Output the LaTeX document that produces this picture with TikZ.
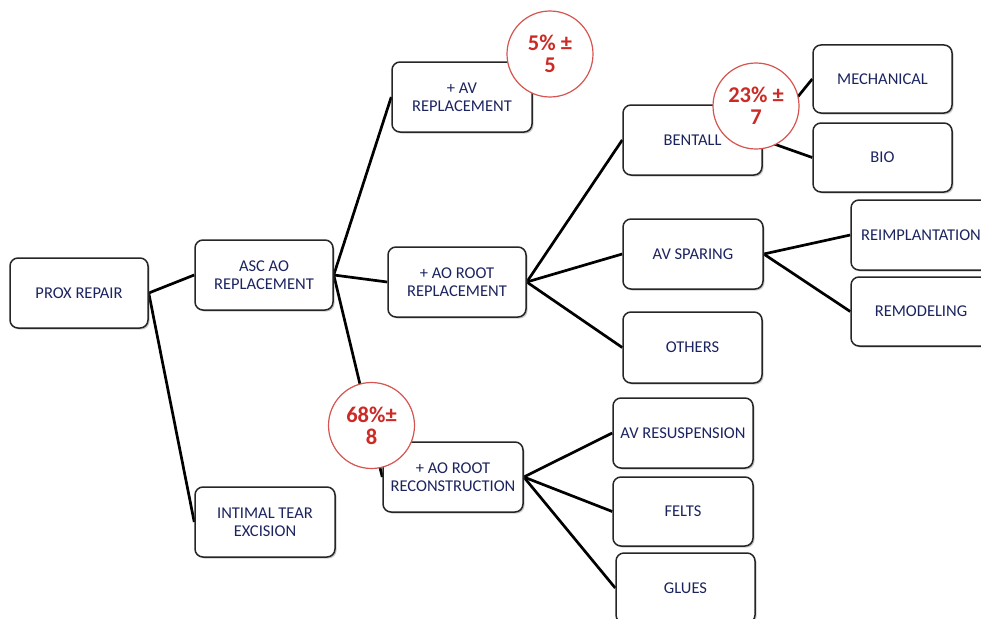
\documentclass[tikz,border=0pt]{standalone}
\usepackage{fontspec}
\setmainfont{Carlito}
\usetikzlibrary{shadows}
\pgfdeclarelayer{bg}
\pgfdeclarelayer{lines}
\pgfsetlayers{bg,lines,main}
\definecolor{navy}{HTML}{1C2460}
\definecolor{circred}{HTML}{CC2A24}
\definecolor{circline}{HTML}{D65550}
\begin{document}
\begin{tikzpicture}[x=1pt,y=-1pt,
  box/.style={draw=black!85, line width=1.5pt, rounded corners=8pt, fill=white,
    align=center, inner sep=0pt, text=navy,
    font=\fontsize{16.5}{18}\selectfont,
    drop shadow={shadow xshift=1.5pt, shadow yshift=-1.5pt, opacity=0.35, fill=black!60}},
  pct/.style={draw=circline, line width=1.2pt, circle, fill=white, minimum size=86pt,
    inner sep=0pt, align=center, text=circred,
    font=\fontsize{22.5}{22}\selectfont\bfseries},
  conn/.style={line width=2.7pt, black}]
\useasboundingbox (0,0) rectangle (981,618);
\begin{pgfonlayer}{bg}
\fill[white] (0,0) rectangle (981,618);
\end{pgfonlayer}

% boxes
\node[box, minimum width=138pt, minimum height=70pt] (prox) at (79,293) {PROX REPAIR};
\node[box, minimum width=138pt, minimum height=70pt] (asc) at (264,275) {ASC AO\\REPLACEMENT};
\node[box, minimum width=140pt, minimum height=70pt] (avr) at (462,97) {+ AV\\REPLACEMENT};
\node[box, minimum width=138pt, minimum height=70pt] (aorr) at (457,282) {+ AO ROOT\\REPLACEMENT};
\node[box, minimum width=139pt, minimum height=70pt] (bentall) at (692.5,140) {BENTALL};
\node[box, minimum width=139pt, minimum height=68pt] (mech) at (882.5,79) {MECHANICAL};
\node[box, minimum width=139pt, minimum height=69pt] (bio) at (882.5,157.5) {BIO};
\node[box, minimum width=140pt, minimum height=70pt] (avs) at (693,254) {AV SPARING};
\node[box, minimum width=139pt, minimum height=71pt] (others) at (692.5,347.5) {OTHERS};
\node[box, minimum width=140pt, minimum height=70pt] (reimpl) at (921,235) {REIMPLANTATION};
\node[box, minimum width=140pt, minimum height=69pt] (remod) at (921,311.5) {REMODELING};
\node[box, minimum width=140pt, minimum height=70pt] (recon) at (453,477) {+ AO ROOT\\RECONSTRUCTION};
\node[box, minimum width=140pt, minimum height=70pt] (avres) at (683,433) {AV RESUSPENSION};
\node[box, minimum width=140pt, minimum height=69pt] (felts) at (683,511.5) {FELTS};
\node[box, minimum width=139pt, minimum height=70pt] (glues) at (685.5,588) {GLUES};
\node[box, minimum width=140pt, minimum height=70pt] (intimal) at (265,522) {INTIMAL TEAR\\EXCISION};

% connectors (behind boxes)
\begin{pgfonlayer}{lines}
\draw[conn] (prox.east) -- (asc.west);
\draw[conn] (prox.east) -- (intimal.west);
\draw[conn] (asc.east) -- (avr.west);
\draw[conn] (asc.east) -- (aorr.west);
\draw[conn] (asc.east) -- (recon.west);
\draw[conn] (aorr.east) -- (bentall.west);
\draw[conn] (aorr.east) -- (avs.west);
\draw[conn] (aorr.east) -- (others.west);
\draw[conn] (bentall.east) -- (mech.west);
\draw[conn] (bentall.east) -- (bio.west);
\draw[conn] (avs.east) -- (reimpl.west);
\draw[conn] (avs.east) -- (remod.west);
\draw[conn] (recon.east) -- (avres.west);
\draw[conn] (recon.east) -- (felts.west);
\draw[conn] (recon.east) -- (glues.west);
\end{pgfonlayer}

% circles on top
\node[pct] (c5) at (550,54) {5\% ±\\5};
\node[pct] (c23) at (756,106) {23\% ±\\7};
\node[pct] (c68) at (371.5,425.5) {68\%±\\8};
\end{tikzpicture}
\end{document}
